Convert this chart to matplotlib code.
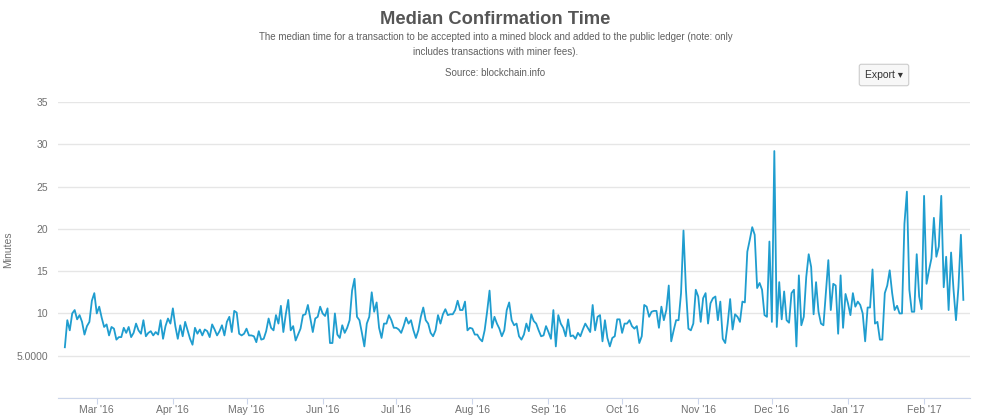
import numpy as np
import pandas as pd
import matplotlib
matplotlib.use("Agg")
import matplotlib.pyplot as plt
import matplotlib.dates as mdates

plt.rcParams['font.family'] = ['Liberation Sans', 'DejaVu Sans']

# daily median confirmation time (minutes)
feb_may = [6.0, 9.2, 8.0, 10.0, 10.4, 9.3, 9.8, 9.0, 7.5, 8.5, 9.0, 11.5, 12.4, 10.0, 10.8,
           9.5, 8.4, 8.7, 7.4, 8.4, 8.2, 6.9, 7.2, 7.2, 8.3, 7.7, 8.4, 7.2, 7.7, 8.8,
           8.0, 7.6, 9.2, 7.3, 7.7, 7.9, 7.4, 7.8, 7.5, 9.2, 7.0, 8.5, 9.4, 8.8, 10.6,
           8.5, 7.0, 8.6, 7.3, 9.0, 8.0, 7.0, 6.3, 8.3, 7.6, 8.1, 7.4, 8.1, 7.9, 7.2,
           8.7, 8.1, 7.4, 7.9, 8.6, 7.4, 9.0, 9.6, 7.8, 10.3, 10.1, 7.6, 7.4, 7.6, 8.2,
           7.4, 7.4, 7.3, 6.6, 7.9, 6.9, 7.0, 7.9, 9.4, 8.3, 8.0, 9.8, 8.8, 10.9, 7.8,
           9.9, 11.6, 8.0, 8.5, 6.8, 7.5, 8.2, 9.8, 9.9, 11.0, 9.4, 7.8, 9.4, 9.6, 10.8,
           10.0, 9.7, 10.6, 6.5, 6.5, 10.0, 7.5]
jun_sep = [7.1, 8.6, 7.7, 8.3, 9.2, 12.7, 14.1, 9.6, 9.2, 7.7, 6.1, 8.8, 9.6, 12.5, 10.2,
           11.3, 8.3, 7.1, 8.8, 8.8, 9.8, 9.2, 8.3, 8.3, 8.1, 7.7, 8.5, 9.5, 8.8, 9.2,
           8.0, 7.1, 8.0, 9.6, 10.7, 9.2, 8.8, 7.7, 7.3, 8.0, 9.8, 8.8, 9.9, 10.5, 9.8,
           9.9, 9.9, 10.4, 11.5, 10.4, 10.4, 11.4, 8.0, 8.3, 8.2, 7.5, 7.5, 7.0, 6.7, 8.0,
           10.2, 12.7, 8.3, 9.6, 8.8, 8.2, 7.3, 8.0, 10.4, 11.3, 9.2, 8.6, 8.8, 7.3, 6.9,
           7.5, 8.8, 7.9, 9.9, 9.1, 8.8, 8.0, 7.3, 7.4, 8.5, 7.8, 7.0, 10.4, 6.1, 9.8,
           8.8, 8.3, 7.3, 9.3, 7.3, 7.4, 7.0, 7.7, 7.3, 8.1, 8.8, 8.3, 7.8, 11.0, 8.0,
           9.6, 9.8, 6.7, 9.2, 7.1, 6.1, 7.1, 7.3, 9.3, 9.3, 7.7, 8.8, 8.8, 9.2, 8.5,
           8.2, 8.5, 6.5, 7.3, 11.0, 10.8, 9.6, 10.2, 10.3, 10.3, 8.3, 10.8]
oct_feb = [9.2, 10.4, 13.3, 6.7, 8.0, 9.2, 9.2, 12.4, 19.8, 12.8, 8.2, 8.0, 8.8, 12.8, 12.0,
           9.0, 11.8, 12.4, 8.8, 11.2, 11.8, 12.0, 9.2, 11.4, 7.0, 6.5, 8.8, 11.7, 8.1, 9.9,
           9.6, 9.0, 11.4, 11.3, 17.3, 18.7, 20.2, 19.3, 13.0, 13.6, 12.8, 9.8, 9.6, 18.5, 9.0,
           29.2, 8.4, 13.7, 9.3, 12.6, 9.2, 8.9, 12.4, 12.8, 6.1, 14.5, 8.6, 9.6, 14.3, 17.0,
           15.5, 9.9, 13.7, 10.2, 8.8, 8.6, 12.4, 16.3, 10.4, 13.5, 13.3, 7.6, 14.5, 8.3, 12.3,
           11.2, 9.8, 12.4, 10.8, 11.4, 11.0, 10.0, 6.7, 10.7, 10.7, 15.2, 8.8, 9.0, 6.9, 6.9,
           12.4, 13.3, 15.1, 12.4, 10.4, 10.9, 10.0, 10.0, 20.6, 24.4, 12.8, 10.2, 10.2, 17.0, 12.0,
           10.5, 23.9, 13.5, 15.1, 16.5, 21.3, 16.7, 17.9, 23.9, 13.1, 16.7, 10.4, 17.2, 12.8, 9.2,
           13.1, 19.3, 11.6]
minutes = feb_may + jun_sep + oct_feb
dates = pd.date_range("2016-02-17", periods=len(minutes), freq="D")

y_ticks = [0, 5, 10, 15, 20, 25, 30, 35]
y_labels = ['', '5.0000', '10', '15', '20', '25', '30', '35']

W, H = 991, 420
fig = plt.figure(figsize=(W / 100, H / 100), dpi=100)
ax = fig.add_axes([58 / W, 1 - 398 / H, (970 - 58) / W, (398 - 102) / H])

ax.plot(dates, minutes, color='#1f9dcf', lw=1.3, solid_joinstyle='round')

ax.set_ylim(0, 35)
ax.set_yticks(y_ticks)
ax.set_yticklabels(y_labels)
ax.set_xlim(pd.Timestamp("2016-02-14 05:00"), pd.Timestamp("2017-02-19 17:00"))
ax.xaxis.set_major_locator(mdates.MonthLocator())
ax.xaxis.set_major_formatter(mdates.DateFormatter("%b '%y"))

ax.grid(axis='y', color='#e6e6e6', lw=1)
ax.set_axisbelow(True)
for s in ['top', 'right', 'left']:
    ax.spines[s].set_visible(False)
ax.spines['bottom'].set_color('#ccd6eb')
ax.tick_params(axis='y', length=0, pad=7, labelsize=7.5, labelcolor='#707070')
ax.tick_params(axis='x', length=4, color='#ccd6eb', pad=1, labelsize=7.5, labelcolor='#707070')

fig.text(8 / W, 1 - 250 / H, 'Minutes', rotation=90, ha='center', va='center',
         fontsize=7.5, color='#707070')

# titles
fig.text(0.5, 1 - 19 / H, 'Median Confirmation Time', ha='center', va='center',
         fontsize=13.2, fontweight='bold', color='#555555')
fig.text(0.5, 1 - 37.5 / H, 'The median time for a transaction to be accepted into a mined block '
         'and added to the public ledger (note: only', ha='center', va='center',
         fontsize=7.0, color='#606060')
fig.text(0.5, 1 - 52 / H, 'includes transactions with miner fees).', ha='center', va='center',
         fontsize=7.0, color='#606060')
fig.text(0.5, 1 - 72.5 / H, 'Source: blockchain.info', ha='center', va='center',
         fontsize=7.0, color='#606060')

# export button
fig.text(884 / W, 1 - 75 / H, 'Export \u25be', ha='center', va='center', fontsize=7.5,
         color='#333333',
         bbox=dict(boxstyle='round,pad=0.55,rounding_size=0.2', fc='#f7f7f7', ec='#cccccc', lw=0.8))

fig.savefig('out.png', dpi=100)
